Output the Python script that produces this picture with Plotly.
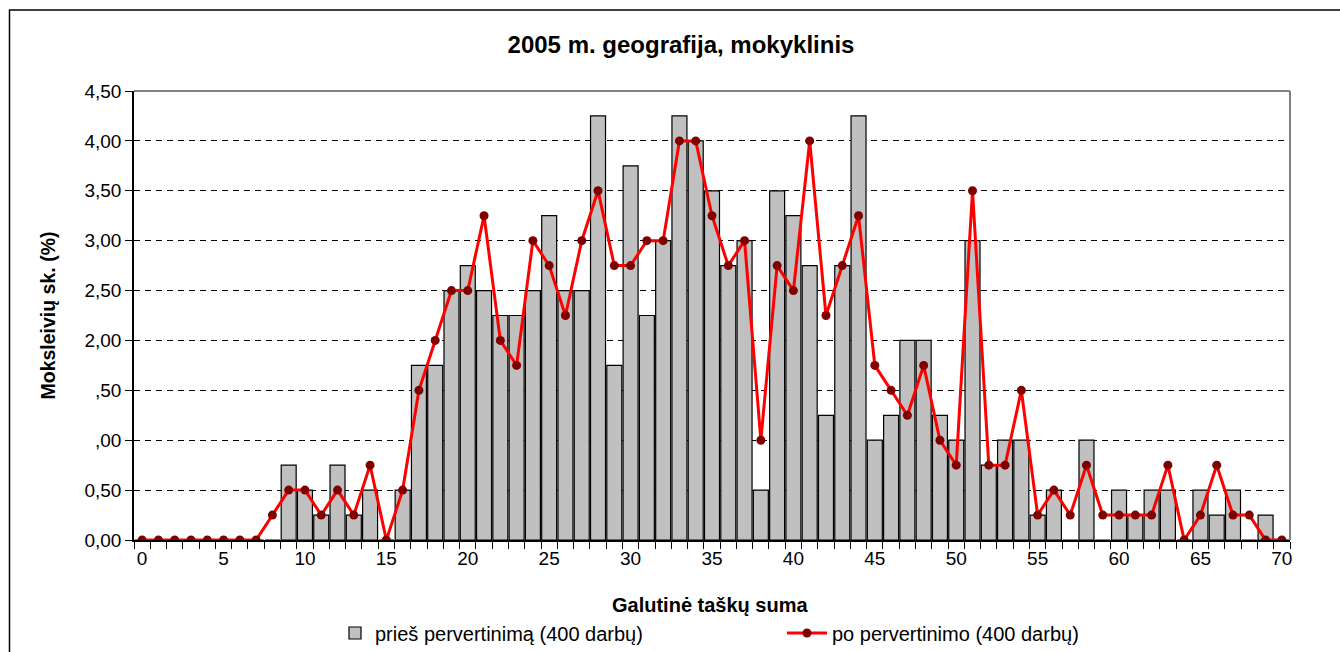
import plotly.graph_objects as go

scores = list(range(0, 71))
before = [0, 0, 0, 0, 0, 0, 0, 0, 0, 0.75,
          0.5, 0.25, 0.75, 0.25, 0.5, 0, 0.5, 1.75, 1.75, 2.5,
          2.75, 2.5, 2.25, 2.25, 2.5, 3.25, 2.5, 2.5, 4.25, 1.75,
          3.75, 2.25, 3.0, 4.25, 4.0, 3.5, 2.75, 3.0, 0.5, 3.5,
          3.25, 2.75, 1.25, 2.75, 4.25, 1.0, 1.25, 2.0, 2.0, 1.25,
          1.0, 3.0, 0.75, 1.0, 1.0, 0.25, 0.5, 0, 1.0, 0,
          0.5, 0.25, 0.5, 0.5, 0, 0.5, 0.25, 0.5, 0, 0.25,
          0]
after = [0, 0, 0, 0, 0, 0, 0, 0, 0.25, 0.5,
         0.5, 0.25, 0.5, 0.25, 0.75, 0, 0.5, 1.5, 2.0, 2.5,
         2.5, 3.25, 2.0, 1.75, 3.0, 2.75, 2.25, 3.0, 3.5, 2.75,
         2.75, 3.0, 3.0, 4.0, 4.0, 3.25, 2.75, 3.0, 1.0, 2.75,
         2.5, 4.0, 2.25, 2.75, 3.25, 1.75, 1.5, 1.25, 1.75, 1.0,
         0.75, 3.5, 0.75, 0.75, 1.5, 0.25, 0.5, 0.25, 0.75, 0.25,
         0.25, 0.25, 0.25, 0.75, 0, 0.25, 0.75, 0.25, 0.25, 0,
         0]
x_tickvals = list(range(0, 71, 5))
x_ticktext = [str(v) for v in x_tickvals]
y_tickvals = [0, 0.5, 1.0, 1.5, 2.0, 2.5, 3.0, 3.5, 4.0, 4.5]
y_ticktext = ["0,00", "0,50", ",00", ",50", "2,00", "2,50", "3,00", "3,50", "4,00", "4,50"]

FONT = "Liberation Sans, Arial, sans-serif"

fig = go.Figure()
fig.add_trace(go.Bar(
    x=scores, y=before, name="prieš pervertinimą (400 darbų)",
    marker=dict(color="#C0C0C0", line=dict(color="#000000", width=1.2)),
    legend="legend",
))
fig.add_trace(go.Scatter(
    x=scores, y=after, name="po pervertinimo (400 darbų)",
    mode="lines+markers",
    line=dict(color="#FF0000", width=3),
    marker=dict(color="#800000", size=9),
    legend="legend2",
))

L, R, T, B = 134, 1290, 91, 540
W, H = 1340, 652
pw, ph = R - L, B - T

def px(xp):
    return (xp - L) / pw

def py(yp):
    return (B - yp) / ph

fig.update_layout(
    width=W, height=H,
    margin=dict(l=L, r=W - R, t=T, b=H - B, autoexpand=False),
    paper_bgcolor="white", plot_bgcolor="white",
    bargap=0.08,
    font=dict(family=FONT, size=19, color="black"),
    title=dict(text="<b>2005 m. geografija, mokyklinis</b>",
               font=dict(family=FONT, size=24, color="black"),
               x=px(681), xref="paper", xanchor="center",
               y=1 - 45 / H, yref="container", yanchor="middle"),
    xaxis=dict(range=[-0.5, 70.5], tickmode="array", tickvals=x_tickvals, ticktext=x_ticktext,
               ticks="", showgrid=False, zeroline=False,
               showline=True, linecolor="black", linewidth=1.5,
               tickfont=dict(family=FONT, size=19),
               minor=dict(tick0=-0.5, dtick=1, ticks="outside", ticklen=7,
                          tickcolor="black", tickwidth=1, showgrid=False)),
    yaxis=dict(range=[0, 4.5], tickmode="array", tickvals=y_tickvals, ticktext=y_ticktext,
               ticks="outside", ticklen=7, tickcolor="black", tickwidth=1,
               showgrid=True, gridcolor="#000000", gridwidth=1, griddash="6px,5px",
               zeroline=False, showline=True, linecolor="black", linewidth=1.5,
               tickfont=dict(family=FONT, size=19)),
    legend=dict(orientation="h", x=px(335), y=py(633), xanchor="left", yanchor="middle",
                font=dict(family=FONT, size=20), bgcolor="rgba(0,0,0,0)"),
    legend2=dict(orientation="h", x=px(782), y=py(633), xanchor="left", yanchor="middle",
                 font=dict(family=FONT, size=20), bgcolor="rgba(0,0,0,0)", itemwidth=40),
    showlegend=True,
)

fig.add_annotation(text="<b>Galutinė taškų suma</b>", xref="paper", yref="paper",
                   x=px(710), y=py(605), xanchor="center", yanchor="middle",
                   showarrow=False, font=dict(family=FONT, size=20))
fig.add_annotation(text="<b>Moksleivių sk. (%)</b>", xref="paper", yref="paper",
                   x=px(47), y=0.5, xanchor="center", yanchor="middle", textangle=-90,
                   showarrow=False, font=dict(family=FONT, size=19.5))

# plot area border (top and right, grey)
fig.add_shape(type="line", xref="paper", yref="paper", x0=0, x1=1, y0=1, y1=1,
              line=dict(color="#808080", width=2))
fig.add_shape(type="line", xref="paper", yref="paper", x0=1, x1=1, y0=0, y1=1,
              line=dict(color="#808080", width=2))
# outer chart frame
fig.add_shape(type="rect", xref="paper", yref="paper",
              x0=px(9.5), x1=px(1400), y0=py(10), y1=py(720),
              line=dict(color="black", width=1.5), layer="below")

fig.write_html("out.html", config={"displayModeBar": False},
               post_script="document.body.style.margin='0';document.body.style.overflow='hidden';")
